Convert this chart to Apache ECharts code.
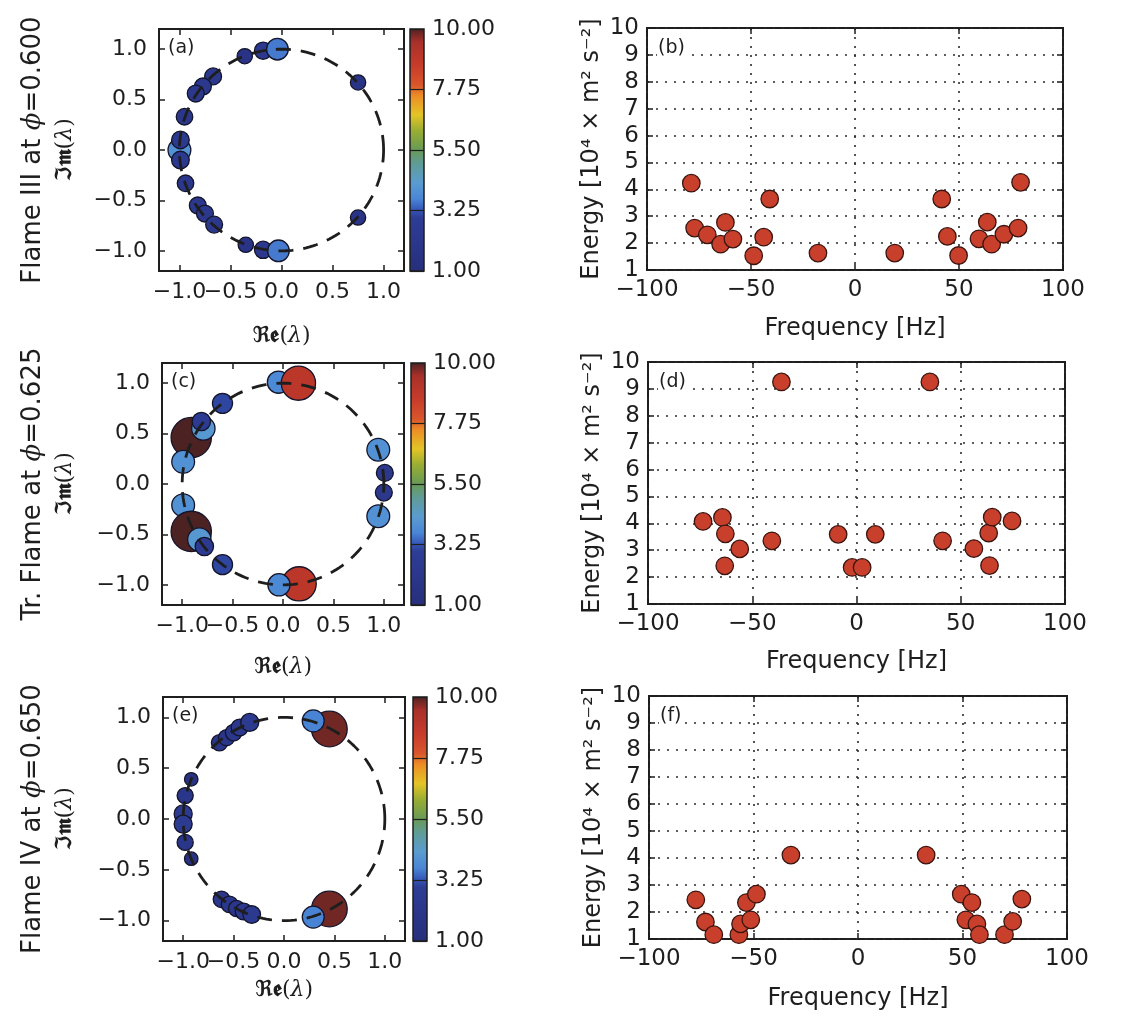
<!DOCTYPE html>
<html>
<head>
<meta charset="utf-8">
<script src="https://cdn.jsdelivr.net/npm/echarts@6/dist/echarts.min.js"></script>
<style>
  html, body { margin: 0; padding: 0; background: #fff; }
  #chart { width: 1130px; height: 1020px; }
</style>
</head>
<body>
<div id="chart"></div>
<script>
// ---- Flame III (phi = 0.600): eigenvalues and mode energies ----
const reA  = [-1.00, -0.36, -0.18, -0.04, 0.75, -0.67, -0.77, -0.84, -0.95, -0.99, -0.99, -0.94, -0.82, -0.75, -0.66, -0.35, -0.18, -0.03, 0.75];
const imA  = [0.00, 0.93, 0.985, 1.00, 0.67, 0.73, 0.63, 0.56, 0.33, 0.10, -0.10, -0.33, -0.55, -0.63, -0.74, -0.94, -0.99, -1.00, -0.67];
const ampA = [4.0, 1.8, 2.3, 3.6, 1.8, 2.2, 2.2, 2.2, 2.1, 2.4, 2.4, 2.1, 2.2, 2.2, 2.2, 1.8, 2.3, 3.6, 1.8];
const freqB   = [-78.7, -77.1, -71.0, -64.6, -62.3, -58.7, -48.7, -43.9, -41.0, -17.8, 19.1, 41.7, 44.4, 49.8, 59.6, 63.6, 65.7, 71.6, 78.4, 79.6];
const energyB = [4.23, 2.56, 2.31, 1.96, 2.77, 2.15, 1.53, 2.22, 3.64, 1.63, 1.63, 3.64, 2.25, 1.54, 2.16, 2.78, 1.96, 2.33, 2.56, 4.26];

// ---- Transitional flame (phi = 0.625) ----
const reC  = [-0.045, 0.153, -0.60, -0.91, -0.79, -0.81, -0.99, 0.945, 1.01, 1.00, 0.945, -0.99, -0.91, -0.83, -0.78, -0.60, 0.16, -0.04];
const imC  = [1.01, 1.00, 0.80, 0.46, 0.55, 0.62, 0.22, 0.34, 0.11, -0.085, -0.32, -0.21, -0.47, -0.55, -0.62, -0.80, -0.99, -1.00];
const ampC = [3.8, 9.0, 3.1, 12.5, 4.2, 2.6, 4.0, 4.0, 2.2, 2.2, 4.0, 4.0, 12.5, 4.2, 2.6, 3.1, 9.0, 3.8];
const freqD   = [-73.6, -64.3, -62.9, -63.2, -56.0, -40.6, -36.0, -8.8, -2.1, 2.7, 9.0, 35.2, 41.3, 56.3, 63.4, 63.8, 65.1, 74.6];
const energyD = [4.07, 4.22, 3.61, 2.42, 3.05, 3.35, 9.26, 3.59, 2.36, 2.36, 3.59, 9.26, 3.35, 3.06, 3.64, 2.43, 4.23, 4.09];

// ---- Flame IV (phi = 0.650) ----
const reE  = [-0.64, -0.57, -0.50, -0.44, -0.34, -0.92, -0.98, -1.00, -1.00, -0.98, -0.92, -0.62, -0.54, -0.47, -0.40, -0.32, 0.45, 0.29, 0.45, 0.29];
const imE  = [0.75, 0.80, 0.85, 0.90, 0.95, 0.39, 0.23, 0.05, -0.05, -0.23, -0.39, -0.79, -0.84, -0.88, -0.91, -0.94, 0.885, 0.965, -0.885, -0.965];
const ampE = [2.0, 2.0, 2.1, 2.2, 2.5, 1.4, 2.0, 2.5, 2.5, 2.0, 1.4, 2.1, 2.1, 2.0, 2.2, 2.4, 9.8, 3.7, 9.8, 3.7];
const freqF   = [-77.6, -73.0, -69.0, -57.0, -56.2, -53.4, -51.3, -48.6, -32.1, 32.6, 49.4, 51.6, 54.5, 56.9, 58.1, 70.1, 74.0, 78.4];
const energyF = [2.45, 1.63, 1.16, 1.16, 1.56, 2.35, 1.71, 2.66, 4.11, 4.11, 2.66, 1.71, 2.35, 1.56, 1.16, 1.16, 1.65, 2.48];

// ---- labels and ticks ----
const rowTitles  = ['Flame III at ', 'Tr. Flame at ', 'Flame IV at '];
const phiValues  = ['0.600', '0.625', '0.650'];
const leftTags   = ['(a)', '(c)', '(e)'];
const rightTags  = ['(b)', '(d)', '(f)'];
const unitTicks  = [-1, -0.5, 0, 0.5, 1];
const unitLabelsMain = [-1, 0, 1];    // drawn on the frame axis
const unitLabelsHalf = [-0.5, 0.5];   // drawn on an overlay axis (they touch their neighbours)
const cbarTicks  = [1, 3.25, 5.5, 7.75, 10];
const cbarRange  = [1, 10];
const freqRange  = [-100, 100];
const energyRange = [1, 10];

const eigRe  = [reA, reC, reE];
const eigIm  = [imA, imC, imE];
const eigAmp = [ampA, ampC, ampE];
const freqs  = [freqB, freqD, freqF];
const energies = [energyB, energyD, energyF];

// colour map used for the eigenvalue markers and the colour bars
const cmapStops = [
  [1.0, '#272f7c'], [3.0, '#2d3d96'], [3.3, '#3558b8'], [3.7, '#4a86d6'],
  [4.3, '#5a9cd0'], [5.0, '#5f9c96'], [5.5, '#689a55'], [6.2, '#98ad33'],
  [6.8, '#e4c426'], [7.5, '#ec8d26'], [7.9, '#d9562c'], [8.6, '#c83c2a'],
  [9.5, '#a8302a'], [10.0, '#4c2222']
];
function hex2rgb(h) { return [1, 3, 5].map(i => parseInt(h.substr(i, 2), 16)); }
function cmap(v) {
  for (let i = 1; i < cmapStops.length; i++) {
    const [v1, c1] = cmapStops[i];
    if (v <= v1) {
      const [v0, c0] = cmapStops[i - 1];
      const t = (v - v0) / (v1 - v0);
      const a = hex2rgb(c0), b = hex2rgb(c1);
      return 'rgb(' + a.map((x, k) => Math.round(x + (b[k] - x) * t)).join(',') + ')';
    }
  }
  return cmapStops[cmapStops.length - 1][1];
}
const cmapList = [];
for (let v = 1; v <= 10.0001; v += 0.125) cmapList.push(cmap(v));
const gradStops = cmapStops.map(([v, c]) => ({ offset: (v - 1) / 9, color: c }));

// unit circle outline
const circle = [];
for (let a = 0; a <= 360; a += 2) {
  circle.push([Math.cos(a * Math.PI / 180), Math.sin(a * Math.PI / 180)]);
}

const FONT = 'DejaVu Sans';
const INK = '#1e1e1e';
const minus = s => s.replace('-', '\u2212');

const layout = {
  left:  [{ left: 159, top: 29, width: 245, height: 242 },
          { left: 162, top: 363, width: 242, height: 242 },
          { left: 163, top: 697, width: 242, height: 244 }],
  cbar:  [{ left: 410, top: 29, width: 14, height: 242 },
          { left: 411, top: 363, width: 14, height: 242 },
          { left: 413, top: 697, width: 14, height: 244 }],
  right: [{ left: 647, top: 28, width: 416, height: 242 },
          { left: 648, top: 362, width: 417, height: 242 },
          { left: 649, top: 696, width: 418, height: 243 }]
};
const reNameGap   = [54, 51, 38];
const freqNameGap = [47, 46, 48];

const grids = [], xAxes = [], yAxes = [], series = [], graphics = [];
const tickStyle = { show: true, inside: true, length: 6, lineStyle: { color: INK, width: 1.5 } };
const noLine = { show: false, onZero: false };
const unitFmt = v => minus(v.toFixed(1));
const unitLabelStyle = { formatter: unitFmt, hideOverlap: false, showMinLabel: true, showMaxLabel: true,
  fontFamily: FONT, fontSize: 22, color: INK };

function addGrid(box, border) {
  grids.push(Object.assign({ show: border, borderColor: INK, borderWidth: 2,
    backgroundColor: 'rgba(0,0,0,0)', containLabel: false }, box));
  return grids.length - 1;
}

const leftScatterIdx = [];

for (let r = 0; r < 3; r++) {
  // ---------- eigenvalue panel ----------
  const g = addGrid(layout.left[r], true);
  const xi = xAxes.length, yi = yAxes.length;
  xAxes.push({
    gridIndex: g, type: 'value', min: -1.2, max: 1.2, position: 'bottom',
    axisLine: noLine, splitLine: { show: false },
    axisTick: Object.assign({ customValues: unitTicks }, tickStyle),
    axisLabel: Object.assign({ customValues: unitLabelsMain, margin: 10 }, unitLabelStyle),
    name: '{f|ℜ𝖊}{m|(}{l|λ}{m|)}', nameLocation: 'middle', nameGap: reNameGap[r],
    nameTextStyle: { rich: {
      f: { fontFamily: FONT, fontWeight: 'bold', fontSize: 22, color: INK },
      m: { fontFamily: 'DejaVu Serif', fontSize: 22, color: INK },
      l: { fontFamily: 'DejaVu Serif', fontStyle: 'italic', fontSize: 22, color: INK } } }
  });
  xAxes.push({
    gridIndex: g, type: 'value', min: -1.2, max: 1.2, position: 'top',
    axisLine: noLine, splitLine: { show: false }, axisLabel: { show: false },
    axisTick: Object.assign({ customValues: unitTicks }, tickStyle)
  });
  yAxes.push({
    gridIndex: g, type: 'value', min: -1.2, max: 1.2, position: 'left',
    axisLine: noLine, splitLine: { show: false },
    axisTick: Object.assign({ customValues: unitTicks }, tickStyle),
    axisLabel: Object.assign({ customValues: unitTicks, margin: 12 }, unitLabelStyle),
    name: '{t|' + rowTitles[r] + '}{p|ϕ}{t|=' + phiValues[r] + '}\n{f|ℑ𝖒}{m|(}{l|λ}{m|)}',
    nameLocation: 'middle', nameGap: 78 + (layout.left[r].left - 159), nameRotate: 90,
    nameTextStyle: { lineHeight: 32, rich: {
      t: { fontFamily: FONT, fontSize: 26, color: INK, lineHeight: 32 },
      p: { fontFamily: 'DejaVu Serif', fontStyle: 'italic', fontSize: 26, color: INK, lineHeight: 32 },
      f: { fontFamily: FONT, fontWeight: 'bold', fontSize: 22, color: INK, lineHeight: 32 },
      m: { fontFamily: 'DejaVu Serif', fontSize: 22, color: INK, lineHeight: 32 },
      l: { fontFamily: 'DejaVu Serif', fontStyle: 'italic', fontSize: 22, color: INK, lineHeight: 32 } } }
  });
  yAxes.push({
    gridIndex: g, type: 'value', min: -1.2, max: 1.2, position: 'right',
    axisLine: noLine, splitLine: { show: false }, axisLabel: { show: false },
    axisTick: Object.assign({ customValues: unitTicks }, tickStyle)
  });

  leftScatterIdx.push(series.length);
  series.push({
    type: 'scatter', xAxisIndex: xi, yAxisIndex: yi, z: 2,
    data: eigRe[r].map((x, k) => [x, eigIm[r][k], eigAmp[r][k]]),
    symbolSize: v => 11.4 * Math.sqrt(v[2]),
    itemStyle: { borderColor: '#14142a', borderWidth: 1.3, opacity: 1 },
    emphasis: { disabled: true }
  });
  series.push({
    type: 'line', xAxisIndex: xi, yAxisIndex: yi, z: 4, silent: true,
    data: circle, showSymbol: false, symbol: 'none', smooth: false,
    lineStyle: { color: INK, width: 2.8, type: [15, 10] }
  });

  // overlay axis on the same box carrying the half-unit labels
  const go = addGrid(layout.left[r], false);
  xAxes.push({
    gridIndex: go, type: 'value', min: -1.2, max: 1.2, position: 'bottom',
    axisLine: noLine, splitLine: { show: false }, axisTick: { show: false },
    axisLabel: Object.assign({ customValues: unitLabelsHalf, margin: 10 }, unitLabelStyle)
  });
  yAxes.push({ gridIndex: go, type: 'value', min: -1.2, max: 1.2, show: false });

  graphics.push({ type: 'text', left: layout.left[r].left + 9, top: layout.left[r].top + 10, z: 20,
    style: { text: leftTags[r], font: '19px "DejaVu Sans"', fill: INK } });

  // ---------- colour bar ----------
  const gc = addGrid(layout.cbar[r], false);
  const cxi = xAxes.length, cyi = yAxes.length;
  xAxes.push({ gridIndex: gc, type: 'value', min: 0, max: 1, show: false });
  yAxes.push({
    gridIndex: gc, type: 'value', min: cbarRange[0], max: cbarRange[1], position: 'right', z: 6,
    axisLine: noLine, splitLine: { show: false },
    axisTick: { show: true, inside: true, length: 14, customValues: cbarTicks, lineStyle: { color: INK, width: 1.2 } },
    axisLabel: { customValues: cbarTicks, formatter: v => v.toFixed(2), hideOverlap: false,
      fontFamily: FONT, fontSize: 22, color: INK, margin: 8 }
  });
  series.push({
    type: 'custom', xAxisIndex: cxi, yAxisIndex: cyi, silent: true, z: 1,
    data: [[0, cbarRange[0], 1, cbarRange[1]]],
    renderItem: (params, api) => {
      const p0 = api.coord([api.value(0), api.value(1)]);
      const p1 = api.coord([api.value(2), api.value(3)]);
      return { type: 'rect',
        shape: { x: p0[0], y: p1[1], width: p1[0] - p0[0], height: p0[1] - p1[1] },
        style: { fill: new echarts.graphic.LinearGradient(0, 1, 0, 0, gradStops), stroke: INK, lineWidth: 1.5 } };
    }
  });

  // ---------- energy spectrum ----------
  const gr = addGrid(layout.right[r], true);
  const rxi = xAxes.length, ryi = yAxes.length;
  const dotted = { show: true, lineStyle: { color: '#2a2a2a', width: 1.6, type: [2, 7] } };
  xAxes.push({
    gridIndex: gr, type: 'value', min: freqRange[0], max: freqRange[1], interval: 50, position: 'bottom',
    axisLine: noLine, splitLine: dotted, axisTick: tickStyle,
    axisLabel: { formatter: v => minus(String(v)), hideOverlap: false, fontFamily: FONT, fontSize: 23, color: INK, margin: 9 },
    name: 'Frequency [Hz]', nameLocation: 'middle', nameGap: freqNameGap[r],
    nameTextStyle: { fontFamily: FONT, fontSize: 24, color: INK }
  });
  xAxes.push({
    gridIndex: gr, type: 'value', min: freqRange[0], max: freqRange[1], interval: 50, position: 'top',
    axisLine: noLine, splitLine: { show: false }, axisLabel: { show: false }, axisTick: tickStyle
  });
  yAxes.push({
    gridIndex: gr, type: 'value', min: energyRange[0], max: energyRange[1], interval: 1, position: 'left',
    axisLine: noLine, splitLine: dotted, axisTick: tickStyle,
    axisLabel: { hideOverlap: false, fontFamily: FONT, fontSize: 23, color: INK, margin: 8 },
    name: 'Energy [10⁴ × m² s⁻²]', nameLocation: 'middle', nameGap: 43, nameRotate: 90,
    nameTextStyle: { fontFamily: FONT, fontSize: 24, color: INK }
  });
  yAxes.push({
    gridIndex: gr, type: 'value', min: energyRange[0], max: energyRange[1], interval: 1, position: 'right',
    axisLine: noLine, splitLine: { show: false }, axisLabel: { show: false }, axisTick: tickStyle
  });
  series.push({
    type: 'scatter', xAxisIndex: rxi, yAxisIndex: ryi, z: 3,
    data: freqs[r].map((f, k) => [f, energies[r][k]]),
    symbolSize: 17.5,
    itemStyle: { color: '#c8402c', borderColor: '#3a1510', borderWidth: 1.3, opacity: 1 },
    emphasis: { disabled: true }
  });
  graphics.push({ type: 'text', left: layout.right[r].left + 10, top: layout.right[r].top + 11, z: 20,
    style: { text: rightTags[r], font: '19px "DejaVu Sans"', fill: INK, backgroundColor: '#fff', padding: [0, 2, 0, 1] } });
}

const chart = echarts.init(document.getElementById('chart'), null, { renderer: 'canvas' });
chart.setOption({
  animation: false,
  backgroundColor: '#fff',
  grid: grids,
  xAxis: xAxes,
  yAxis: yAxes,
  visualMap: [{
    type: 'continuous', show: false, min: cbarRange[0], max: cbarRange[1],
    dimension: 2, seriesIndex: leftScatterIdx,
    inRange: { color: cmapList }
  }],
  graphic: graphics,
  series: series
});
</script>
</body>
</html>
